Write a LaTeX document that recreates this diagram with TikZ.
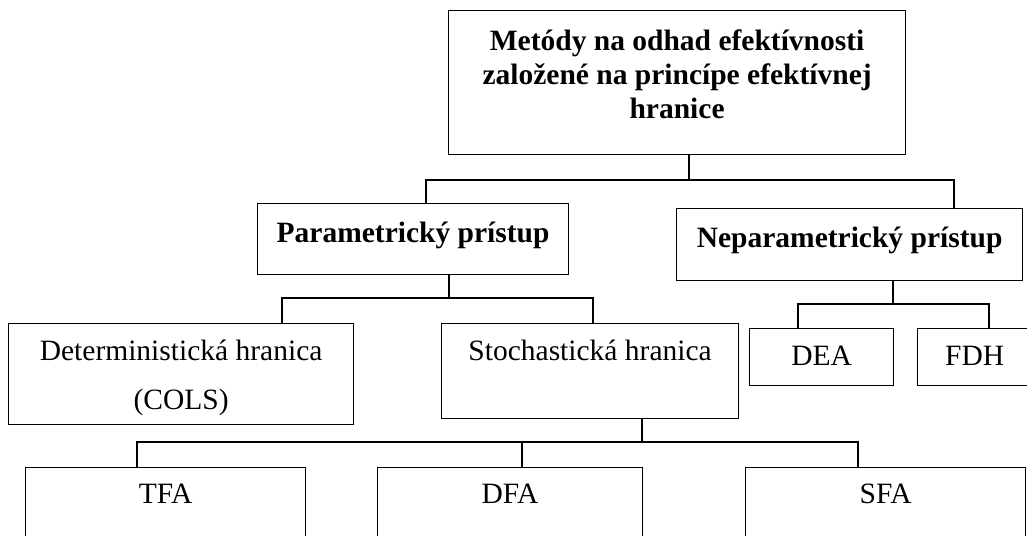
\documentclass[tikz,border=0pt]{standalone}
\usepackage{fontspec}
\setmainfont{Liberation Serif}
\tikzset{
  box/.style={draw, line width=1.2pt, inner sep=0pt, anchor=north west,
    font=\fontsize{29.5}{34}\selectfont},
  boldbox/.style={box, font=\fontsize{29.5}{34}\selectfont\bfseries},
  link/.style={line width=1.2pt},
}
\begin{document}
\begin{tikzpicture}[x=1pt,y=-1pt]
  \useasboundingbox (0,0) rectangle (1027,535);
  %% Boxes
  \node[boldbox, minimum width=457pt, align=center, text height=108pt, text depth=36pt] (metody) at (448,10)
    {Metódy na odhad efektívnosti\\založené na princípe efektívnej\\hranice};
  \node[boldbox, minimum width=311pt, text height=39pt, text depth=32pt] (param) at (257,203) {Parametrický prístup};
  \node[boldbox, minimum width=346pt, text height=39pt, text depth=33pt] (nepar) at (676,208) {Neparametrický prístup};
  \node[box, minimum width=345pt, align=center, text height=86pt, text depth=15pt,
    font=\fontsize{29.5}{49}\selectfont] (det) at (8,323) {Deterministická hranica\\(COLS)};
  \node[box, minimum width=297pt, text height=37pt, text depth=58pt] (stoch) at (441,323) {Stochastická hranica};
  \node[box, minimum width=144pt, text height=37pt, text depth=20pt] (dea) at (749,328) {DEA};
  \node[box, minimum width=114pt, text height=37pt, text depth=20pt] (fdh) at (917,328) {FDH};
  \node[box, minimum width=280pt, text height=36pt, text depth=90pt] (tfa) at (25,467) {TFA};
  \node[box, minimum width=265pt, text height=36pt, text depth=90pt] (dfa) at (377,467) {DFA};
  \node[box, minimum width=280pt, text height=36pt, text depth=90pt] (sfa) at (745,467) {SFA};
  %% Bus points
  \coordinate (b1w) at (426,180);
  \coordinate (b1m) at (689,180);
  \coordinate (b1e) at (954,180);
  \coordinate (b2w) at (282,298);
  \coordinate (b2m) at (449,298);
  \coordinate (b2e) at (593,298);
  \coordinate (b3w) at (798,304);
  \coordinate (b3m) at (893,304);
  \coordinate (b3e) at (989,304);
  \coordinate (b4w) at (137,442);
  \coordinate (b4c) at (522,442);
  \coordinate (b4m) at (642,442);
  \coordinate (b4e) at (858,442);
  %% Connectors
  \draw[link] (metody.south -| b1m) -- (b1m);
  \draw[link] (param.north -| b1w) -- (b1w) -- (b1e) -- (nepar.north -| b1e);
  \draw[link] (param.south -| b2m) -- (b2m);
  \draw[link] (det.north -| b2w) -- (b2w) -- (b2e) -- (stoch.north -| b2e);
  \draw[link] (nepar.south -| b3m) -- (b3m);
  \draw[link] (dea.north -| b3w) -- (b3w) -- (b3e) -- (fdh.north -| b3e);
  \draw[link] (stoch.south -| b4m) -- (b4m);
  \draw[link] (tfa.north -| b4w) -- (b4w) -- (b4e) -- (sfa.north -| b4e);
  \draw[link] (dfa.north -| b4c) -- (b4c);
\end{tikzpicture}
\end{document}
